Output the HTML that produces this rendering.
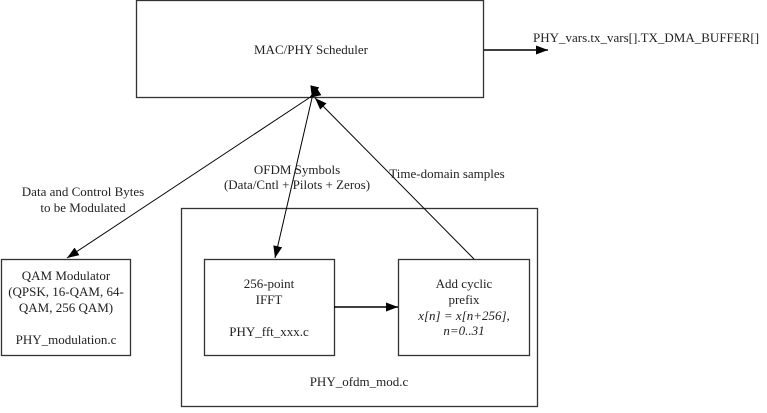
<!DOCTYPE html>
<html><head><style>
body{margin:0;background:#fff;}
svg text{font-family:"Liberation Serif",serif;font-size:13px;fill:#222;}
</style></head><body>
<svg width="767" height="408" viewBox="0 0 767 408" xmlns="http://www.w3.org/2000/svg">
<defs>
<marker id="a" markerWidth="12" markerHeight="9" refX="12" refY="4.5" orient="auto" markerUnits="userSpaceOnUse">
<path d="M0,0 L12,4.5 L0,9 z" fill="#000"/></marker>
</defs>
<g fill="none" stroke="#333" stroke-width="1.3">
<rect x="136.5" y="0.5" width="347" height="97"/>
<rect x="181.5" y="208.5" width="356" height="198"/>
<rect x="1.5" y="259.5" width="129" height="96"/>
<rect x="204.5" y="259.5" width="130" height="96"/>
<rect x="398.5" y="259.5" width="131" height="96"/>
</g>
<g stroke="#000" stroke-width="1">
<line x1="484" y1="50" x2="548" y2="50" stroke-width="1.5" marker-end="url(#a)"/>
<line x1="334" y1="307" x2="398" y2="307" stroke-width="1.5" marker-end="url(#a)"/>
<line x1="309" y1="98" x2="67" y2="258" marker-end="url(#a)" marker-start="url(#a)"/>
<line x1="312" y1="98" x2="275" y2="258" marker-end="url(#a)" marker-start="url(#a)"/>
<line x1="474" y1="259" x2="315" y2="98" marker-end="url(#a)"/>
</g>
<g text-anchor="middle">
<text x="311" y="54">MAC/PHY Scheduler</text>
<text x="297" y="174">OFDM Symbols</text>
<text x="297" y="189">(Data/Cntl + Pilots + Zeros)</text>
<text x="447" y="178">Time-domain samples</text>
<text x="83" y="196">Data and Control Bytes</text>
<text x="83" y="212">to be Modulated</text>
<text x="66" y="280">QAM Modulator</text>
<text x="66" y="296">(QPSK, 16-QAM, 64-</text>
<text x="66" y="312">QAM, 256 QAM)</text>
<text x="66" y="344">PHY_modulation.c</text>
<text x="269" y="288">256-point</text>
<text x="269" y="304">IFFT</text>
<text x="269" y="336">PHY_fft_xxx.c</text>
<text x="464" y="288">Add cyclic</text>
<text x="464" y="304">prefix</text>
<text x="464" y="320" font-style="italic">x[n] = x[n+256],</text>
<text x="464" y="335" font-style="italic">n=0..31</text>
<text x="359" y="386">PHY_ofdm_mod.c</text>
</g>
<text x="533" y="42">PHY_vars.tx_vars[].TX_DMA_BUFFER[]</text>
</svg>
</body></html>
